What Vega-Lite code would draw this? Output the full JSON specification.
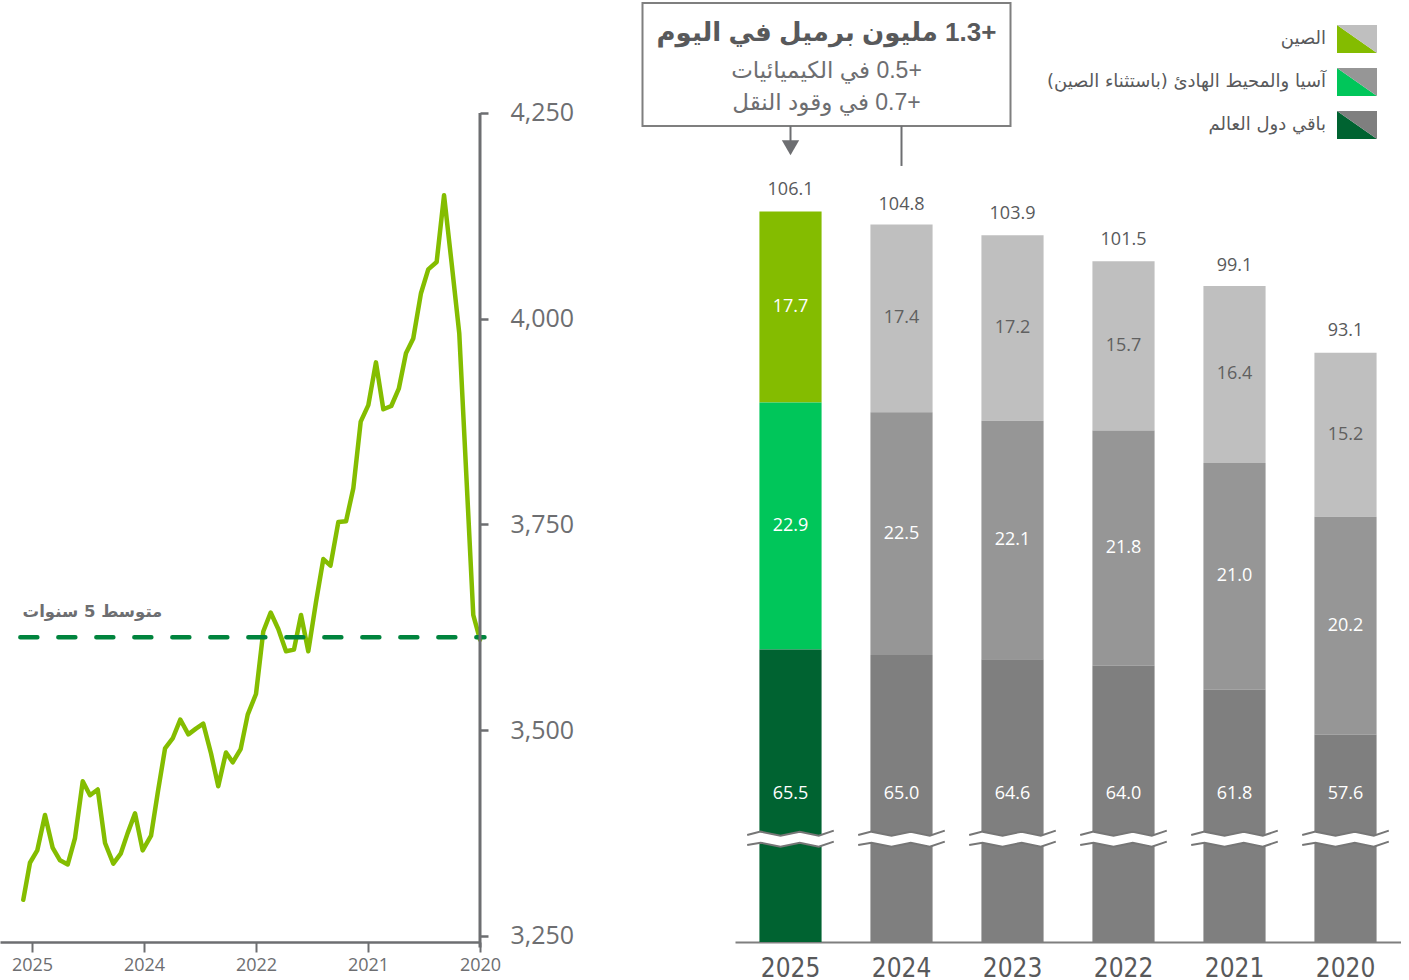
{
  "$schema": "https://vega.github.io/schema/vega-lite/v6.json",
  "background": "white",
  "padding": 0,
  "config": {"view": {"stroke": null}, "axis": {"grid": false}},
  "datasets": {
    "bars": [
      {"year": "2025", "region": "الصين", "value": 17.7},
      {"year": "2025", "region": "آسيا والمحيط الهادئ (باستثناء الصين)", "value": 22.9},
      {"year": "2025", "region": "باقي دول العالم", "value": 65.5},
      {"year": "2024", "region": "الصين", "value": 17.4},
      {"year": "2024", "region": "آسيا والمحيط الهادئ (باستثناء الصين)", "value": 22.5},
      {"year": "2024", "region": "باقي دول العالم", "value": 65.0},
      {"year": "2023", "region": "الصين", "value": 17.2},
      {"year": "2023", "region": "آسيا والمحيط الهادئ (باستثناء الصين)", "value": 22.1},
      {"year": "2023", "region": "باقي دول العالم", "value": 64.6},
      {"year": "2022", "region": "الصين", "value": 15.7},
      {"year": "2022", "region": "آسيا والمحيط الهادئ (باستثناء الصين)", "value": 21.8},
      {"year": "2022", "region": "باقي دول العالم", "value": 64.0},
      {"year": "2021", "region": "الصين", "value": 16.4},
      {"year": "2021", "region": "آسيا والمحيط الهادئ (باستثناء الصين)", "value": 21.0},
      {"year": "2021", "region": "باقي دول العالم", "value": 61.8},
      {"year": "2020", "region": "الصين", "value": 15.2},
      {"year": "2020", "region": "آسيا والمحيط الهادئ (باستثناء الصين)", "value": 20.2},
      {"year": "2020", "region": "باقي دول العالم", "value": 57.6}
    ],
    "totals": [
      {"year": "2025", "total": 106.1},
      {"year": "2024", "total": 104.8},
      {"year": "2023", "total": 103.9},
      {"year": "2022", "total": 101.5},
      {"year": "2021", "total": 99.1},
      {"year": "2020", "total": 93.1}
    ],
    "line": [
      {"t": -0.078, "v": 3294}, {"t": -0.018, "v": 3339}, {"t": 0.047, "v": 3354}, {"t": 0.116, "v": 3397},
      {"t": 0.185, "v": 3357}, {"t": 0.250, "v": 3342}, {"t": 0.319, "v": 3337}, {"t": 0.384, "v": 3369},
      {"t": 0.453, "v": 3438}, {"t": 0.518, "v": 3421}, {"t": 0.587, "v": 3428}, {"t": 0.652, "v": 3363},
      {"t": 0.726, "v": 3338}, {"t": 0.792, "v": 3350}, {"t": 0.854, "v": 3375}, {"t": 0.920, "v": 3399},
      {"t": 0.988, "v": 3354}, {"t": 1.063, "v": 3372}, {"t": 1.125, "v": 3426}, {"t": 1.188, "v": 3478},
      {"t": 1.256, "v": 3490}, {"t": 1.324, "v": 3513}, {"t": 1.396, "v": 3495}, {"t": 1.464, "v": 3502},
      {"t": 1.529, "v": 3508}, {"t": 1.598, "v": 3472}, {"t": 1.663, "v": 3432}, {"t": 1.732, "v": 3473},
      {"t": 1.792, "v": 3461}, {"t": 1.863, "v": 3477}, {"t": 1.926, "v": 3519}, {"t": 2.000, "v": 3544},
      {"t": 2.065, "v": 3620}, {"t": 2.131, "v": 3643}, {"t": 2.199, "v": 3623}, {"t": 2.268, "v": 3596},
      {"t": 2.339, "v": 3598}, {"t": 2.402, "v": 3640}, {"t": 2.467, "v": 3596}, {"t": 2.536, "v": 3656},
      {"t": 2.601, "v": 3708}, {"t": 2.665, "v": 3700}, {"t": 2.735, "v": 3753}, {"t": 2.804, "v": 3754},
      {"t": 2.869, "v": 3794}, {"t": 2.935, "v": 3875}, {"t": 3.003, "v": 3895}, {"t": 3.071, "v": 3947},
      {"t": 3.137, "v": 3890}, {"t": 3.208, "v": 3894}, {"t": 3.275, "v": 3915}, {"t": 3.339, "v": 3958},
      {"t": 3.404, "v": 3976}, {"t": 3.473, "v": 4031}, {"t": 3.538, "v": 4060}, {"t": 3.613, "v": 4069},
      {"t": 3.679, "v": 4150}, {"t": 3.747, "v": 4067}, {"t": 3.815, "v": 3982}, {"t": 3.940, "v": 3640},
      {"t": 4.000, "v": 3610}
    ]
  },
  "spacing": 255,
  "bounds": "flush",
  "hconcat": [
    {
      "width": 480,
      "height": 942,
      "layer": [
        {
          "data": {"name": "line"},
          "mark": {"type": "line", "color": "#84bd00", "strokeWidth": 4.5, "strokeJoin": "round", "strokeCap": "round"},
          "encoding": {
            "x": {
              "field": "t", "type": "quantitative",
              "scale": {"domain": [-0.2857, 4], "nice": false, "zero": false},
              "axis": {
                "values": [0, 1, 2, 3, 4],
                "labelExpr": "datum.value == 0 ? '2025' : datum.value == 1 ? '2024' : datum.value == 2 ? '2022' : datum.value == 3 ? '2021' : '2020'",
                "title": null, "grid": false, "labelFlush": false,
                "domainColor": "#6d6e71", "domainWidth": 2.5,
                "tickColor": "#6d6e71", "tickWidth": 2, "tickSize": 10,
                "labelFont": "Open Sans", "labelFontSize": 18, "labelColor": "#6d6e71", "labelPadding": 4
              }
            },
            "y": {
              "field": "v", "type": "quantitative",
              "scale": {"domain": [3242.7, 4387.3], "nice": false, "zero": false},
              "axis": {
                "orient": "right", "values": [3250, 3500, 3750, 4000, 4250], "format": ",.0f",
                "domain": false, "grid": false, "title": null, "labelFlush": false,
                "tickColor": "#6d6e71", "tickWidth": 2.5, "tickSize": 8,
                "labelFont": "Open Sans", "labelFontSize": 25, "labelColor": "#6d6e71", "labelPadding": 22
              }
            }
          }
        },
        {
          "data": {"values": [{}]},
          "mark": {"type": "rule", "color": "#00843d", "strokeWidth": 4.5, "strokeDash": [17, 21], "strokeCap": "round"},
          "encoding": {
            "x": {"datum": -0.104, "type": "quantitative", "scale": {"domain": [-0.2857, 4], "nice": false, "zero": false}},
            "x2": {"datum": 4.04},
            "y": {"datum": 3613, "type": "quantitative", "scale": {"domain": [3242.7, 4387.3], "nice": false, "zero": false}}
          }
        },
        {
          "data": {"values": [{}]},
          "mark": {"type": "rule", "color": "#6d6e71", "strokeWidth": 3},
          "encoding": {
            "x": {"datum": 4, "type": "quantitative", "scale": {"domain": [-0.2857, 4], "nice": false, "zero": false}},
            "y": {"datum": 3236, "type": "quantitative", "scale": {"domain": [3242.7, 4387.3], "nice": false, "zero": false}},
            "y2": {"datum": 4250}
          }
        },
        {
          "data": {"values": [{}]},
          "mark": {"type": "text", "font": "DejaVu Sans", "fontSize": 16.5, "fontWeight": "bold", "color": "#6d6e71", "align": "center", "baseline": "middle"},
          "encoding": {
            "x": {"datum": 0.54, "type": "quantitative", "scale": {"domain": [-0.2857, 4], "nice": false, "zero": false}},
            "y": {"datum": 3643.7, "type": "quantitative", "scale": {"domain": [3242.7, 4387.3], "nice": false, "zero": false}},
            "text": {"value": "متوسط 5 سنوات"}
          }
        }
      ]
    },
    {
      "width": 666,
      "height": 942,
      "encoding": {
        "x": {
          "field": "year", "type": "nominal",
          "sort": ["2025", "2024", "2023", "2022", "2021", "2020"],
          "scale": {"paddingInner": 0.44, "paddingOuter": 0.22},
          "axis": {
            "title": null, "ticks": false, "labelAngle": 0,
            "domainColor": "#7f7f7f", "domainWidth": 2,
            "labelFont": "Liberation Sans Narrow, DejaVu Sans Condensed, Open Sans", "labelFontSize": 26,
            "labelColor": "#58595b", "labelPadding": 13
          }
        }
      },
      "resolve": {"scale": {"color": "independent"}},
      "layer": [
        {
          "data": {"name": "bars"},
          "transform": [{"filter": "datum.year === '2025'"}],
          "mark": {"type": "bar", "clip": true},
          "encoding": {
            "y": {"field": "value", "type": "quantitative", "stack": "zero", "scale": {"domain": [38.4, 125.7], "nice": false, "zero": false}, "axis": null},
            "order": {"field": "value", "sort": "descending"},
            "color": {
              "field": "region", "type": "nominal",
              "scale": {"domain": ["الصين", "آسيا والمحيط الهادئ (باستثناء الصين)", "باقي دول العالم"], "range": ["#84bc00", "#00c65a", "#006331"]},
              "legend": {
                "orient": "none", "legendX": 602, "legendY": 19, "title": null, "padding": 0,
                "symbolType": "M -1 -0.7 L 1 0.7 L -1 0.7 Z", "symbolSize": 1600, "symbolStrokeWidth": 0, "symbolOpacity": 1,
                "labelFont": "DejaVu Sans", "labelFontSize": 18, "labelColor": "#58595b",
                "labelAlign": "right", "labelOffset": -51, "labelLimit": 600, "rowPadding": 9,
                "labelExpr": "'\u200f' + datum.label + '\u200f'"
              }
            }
          }
        },
        {
          "data": {"name": "bars"},
          "transform": [{"filter": "datum.year !== '2025'"}],
          "mark": {"type": "bar", "clip": true},
          "encoding": {
            "y": {"field": "value", "type": "quantitative", "stack": "zero", "scale": {"domain": [38.4, 125.7], "nice": false, "zero": false}, "axis": null},
            "order": {"field": "value", "sort": "descending"},
            "color": {
              "field": "region", "type": "nominal",
              "scale": {"domain": ["الصين", "آسيا والمحيط الهادئ (باستثناء الصين)", "باقي دول العالم"], "range": ["#bfbfbf", "#969696", "#7f7f7f"]},
              "legend": {
                "orient": "none", "legendX": 602, "legendY": 19, "title": null, "padding": 0,
                "symbolType": "M -1 -0.7 L 1 -0.7 L 1 0.7 Z", "symbolSize": 1600, "symbolStrokeWidth": 0, "symbolOpacity": 1,
                "labelFont": "DejaVu Sans", "labelFontSize": 18, "labelColor": "#58595b", "labelOpacity": 0,
                "labelAlign": "right", "labelOffset": -51, "labelLimit": 600, "rowPadding": 9,
                "labelExpr": "'\u200f' + datum.label + '\u200f'"
              }
            }
          }
        },
        {
          "data": {"name": "bars"},
          "mark": {"type": "text", "font": "Open Sans", "fontSize": 18, "baseline": "middle"},
          "encoding": {
            "y": {"field": "value", "type": "quantitative", "stack": "zero", "bandPosition": 0.5, "scale": {"domain": [38.4, 125.7], "nice": false, "zero": false}},
            "detail": {"field": "region", "type": "nominal"},
            "order": {"field": "value", "sort": "descending"},
            "text": {"field": "value", "type": "quantitative", "format": ".1f"},
            "color": {"condition": {"test": "datum.region === 'الصين' && datum.year !== '2025'", "value": "#606060"}, "value": "#ffffff"},
            "opacity": {"condition": {"test": "datum.region === 'باقي دول العالم'", "value": 0}, "value": 1}
          }
        },
        {
          "data": {"name": "bars"},
          "transform": [{"filter": "datum.region === 'باقي دول العالم'"}],
          "mark": {"type": "text", "font": "Open Sans", "fontSize": 18, "baseline": "middle", "color": "#ffffff"},
          "encoding": {
            "y": {"datum": 52.1, "type": "quantitative", "scale": {"domain": [38.4, 125.7], "nice": false, "zero": false}},
            "text": {"field": "value", "type": "quantitative", "format": ".1f"}
          }
        },
        {
          "data": {"name": "totals"},
          "mark": {"type": "text", "font": "Open Sans", "fontSize": 18, "baseline": "middle", "dy": -21, "color": "#58595b"},
          "encoding": {
            "y": {"field": "total", "type": "quantitative", "scale": {"domain": [38.4, 125.7], "nice": false, "zero": false}},
            "text": {"field": "total", "type": "quantitative", "format": ".1f"}
          }
        },
        {
          "data": {"name": "totals"},
          "mark": {"type": "point", "shape": "M -0.984 -0.091 L -0.682 -0.166 L -0.227 -0.075 L 0.211 -0.166 L 0.643 -0.075 L 0.984 -0.189 L 0.984 0.061 L 0.643 0.175 L 0.211 0.084 L -0.227 0.175 L -0.682 0.084 L -0.984 0.136 Z", "size": 7744, "filled": true, "fill": "#ffffff", "strokeWidth": 0, "opacity": 1},
          "encoding": {
            "y": {"datum": 47.95, "type": "quantitative", "scale": {"domain": [38.4, 125.7], "nice": false, "zero": false}}
          }
        },
        {
          "data": {"name": "totals"},
          "mark": {"type": "point", "shape": "M -0.984 -0.091 L -0.682 -0.166 L -0.227 -0.075 L 0.211 -0.166 L 0.643 -0.075 L 0.984 -0.189 M -0.984 0.136 L -0.682 0.084 L -0.227 0.175 L 0.211 0.084 L 0.643 0.175 L 0.984 0.061", "size": 7744, "filled": false, "stroke": "#767676", "strokeWidth": 2, "opacity": 1},
          "encoding": {
            "y": {"datum": 47.95, "type": "quantitative", "scale": {"domain": [38.4, 125.7], "nice": false, "zero": false}}
          }
        },
        {
          "data": {"name": "totals"},
          "transform": [{"filter": "datum.year === '2025'"}],
          "mark": {"type": "bar", "width": 368, "xOffset": 36, "fill": "#ffffff", "stroke": "#7f7f7f", "strokeWidth": 2},
          "encoding": {
            "y": {"datum": 125.43, "type": "quantitative", "scale": {"domain": [38.4, 125.7], "nice": false, "zero": false}},
            "y2": {"datum": 114.03}
          }
        },
        {
          "data": {"name": "totals"},
          "transform": [{"filter": "datum.year === '2025'"}],
          "mark": {"type": "text", "dx": 36, "font": "Liberation Sans, DejaVu Sans", "fontSize": 26, "fontWeight": "bold", "color": "#58595b", "align": "center", "baseline": "middle"},
          "encoding": {
            "y": {"datum": 122.64, "type": "quantitative", "scale": {"domain": [38.4, 125.7], "nice": false, "zero": false}},
            "text": {"value": "\u200f+1.3 مليون برميل في اليوم\u200f"}
          }
        },
        {
          "data": {"name": "totals"},
          "transform": [{"filter": "datum.year === '2025'"}],
          "mark": {"type": "text", "dx": 36, "font": "Liberation Sans, DejaVu Sans", "fontSize": 23, "color": "#6d6e71", "align": "center", "baseline": "middle"},
          "encoding": {
            "y": {"datum": 119.12, "type": "quantitative", "scale": {"domain": [38.4, 125.7], "nice": false, "zero": false}},
            "text": {"value": "\u200f+0.5 في الكيميائيات\u200f"}
          }
        },
        {
          "data": {"name": "totals"},
          "transform": [{"filter": "datum.year === '2025'"}],
          "mark": {"type": "text", "dx": 36, "font": "Liberation Sans, DejaVu Sans", "fontSize": 23, "color": "#6d6e71", "align": "center", "baseline": "middle"},
          "encoding": {
            "y": {"datum": 116.16, "type": "quantitative", "scale": {"domain": [38.4, 125.7], "nice": false, "zero": false}},
            "text": {"value": "\u200f+0.7 في وقود النقل\u200f"}
          }
        },
        {
          "data": {"name": "totals"},
          "transform": [{"filter": "datum.year === '2025'"}],
          "mark": {"type": "rule", "color": "#6d6e71", "strokeWidth": 2},
          "encoding": {
            "y": {"datum": 114.03, "type": "quantitative", "scale": {"domain": [38.4, 125.7], "nice": false, "zero": false}},
            "y2": {"datum": 112.6}
          }
        },
        {
          "data": {"name": "totals"},
          "transform": [{"filter": "datum.year === '2025'"}],
          "mark": {"type": "point", "shape": "triangle-down", "size": 300, "filled": true, "color": "#6d6e71", "opacity": 1},
          "encoding": {
            "y": {"datum": 112.0, "type": "quantitative", "scale": {"domain": [38.4, 125.7], "nice": false, "zero": false}}
          }
        },
        {
          "data": {"name": "totals"},
          "transform": [{"filter": "datum.year === '2024'"}],
          "mark": {"type": "rule", "color": "#6d6e71", "strokeWidth": 2},
          "encoding": {
            "y": {"datum": 114.03, "type": "quantitative", "scale": {"domain": [38.4, 125.7], "nice": false, "zero": false}},
            "y2": {"datum": 110.32}
          }
        }
      ]
    }
  ]
}
